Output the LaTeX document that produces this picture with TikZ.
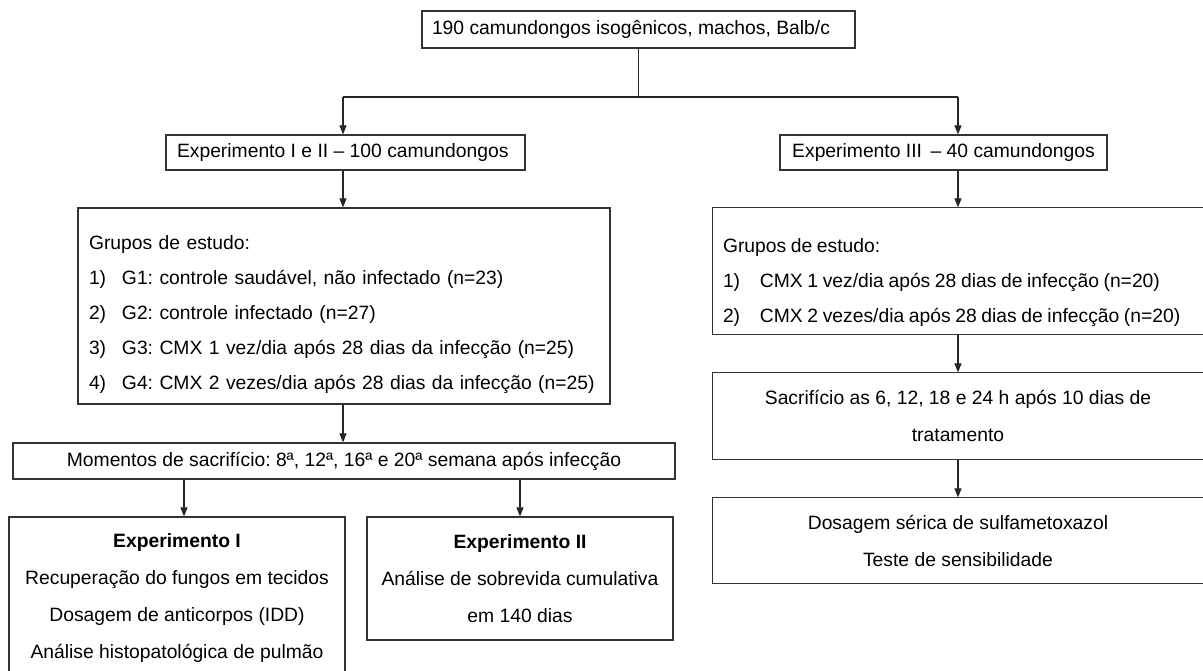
\documentclass[tikz,border=0pt]{standalone}
\usepackage{fontspec}
\setmainfont{Liberation Sans}
\usetikzlibrary{arrows.meta}
\begin{document}
\frenchspacing
\begin{tikzpicture}[x=1pt,y=-1pt,
  frame/.style={draw=black!80, line width=1.2pt},
  box/.style={frame, inner sep=0pt, text=black,
    font=\fontsize{19.3}{37}\selectfont\frenchspacing},
  openbox/.style={box, draw=none},
  listbox/.style={box, align=left, font=\fontsize{19.3}{35}\selectfont\frenchspacing},
  arr/.style={draw=black!85, line width=1.1pt, -{Triangle[length=9pt,width=7pt]}},
  ln/.style={draw=black!85, line width=1.1pt},
]
\useasboundingbox (0,0) rectangle (1203,671);
\clip (0,0) rectangle (1203,671);

% boxes
\node[box, minimum width=433pt, minimum height=37pt]
  (top) at (638.5,29.5) {\makebox[413pt][l]{190 camundongos isogênicos, machos, Balb/c}};
\node[box, minimum width=359pt, minimum height=35pt]
  (exp12) at (345.5,152.5) {\makebox[337pt][l]{Experimento I e II -- 100 camundongos}};
\node[box, minimum width=327pt, minimum height=35pt]
  (exp3) at (943.5,152.5) {Experimento III\, -- 40 camundongos};

\node[listbox, minimum width=532pt, minimum height=196pt, text width=510pt]
  (g1) at (344,306) {\rule{0pt}{32pt}Grupos de estudo:\\
  \mbox{\makebox[33pt][l]{1)}G1: controle saudável, não infectado (n=23)}\\
  \mbox{\makebox[33pt][l]{2)}G2: controle infectado (n=27)}\\
  \mbox{\makebox[33pt][l]{3)}G3: CMX 1 vez/dia após 28 dias da infecção (n=25)}\\
  \mbox{\makebox[33pt][l]{4)}G4: CMX 2 vezes/dia após 28 dias da infecção (n=25)}};

% right column: boxes run past the right edge of the picture
\node[listbox, draw=none, minimum width=490pt, minimum height=126pt, text width=470pt]
  (g2) at (958,271) {\spaceskip=4.6pt\rule{0pt}{38pt}Grupos de estudo:\\
  \mbox{\makebox[37pt][l]{1)}CMX 1 vez/dia após 28 dias de infecção (n=20)}\\
  \mbox{\makebox[37pt][l]{2)}CMX 2 vezes/dia após 28 dias de infecção (n=20)}};
\draw[frame] (g2.north west) rectangle ([xshift=20pt]g2.south east);

\node[box, minimum width=662pt, minimum height=36pt]
  (mom) at (344,461) {Momentos de sacrifício: 8ª, 12ª, 16ª e 20ª semana após infecção};

\node[box, minimum width=336pt, minimum height=162pt, align=center]
  (e1) at (177,598) {\textbf{Experimento I}\\Recuperação do fungos em tecidos\\Dosagem de anticorpos (IDD)\\Análise histopatológica de pulmão};
\node[box, minimum width=306pt, minimum height=123pt, align=center]
  (e2) at (520,578.5) {\textbf{Experimento II}\\Análise de sobrevida cumulativa\\em 140 dias};

\node[openbox, minimum width=490pt, minimum height=86pt, align=center]
  (sac) at (958,416) {Sacrifício as 6, 12, 18 e 24 h após 10 dias de\\tratamento};
\draw[frame] (sac.north west) rectangle ([xshift=20pt]sac.south east);
\node[openbox, minimum width=490pt, minimum height=85pt, align=center]
  (dos) at (958,540.5) {Dosagem sérica de sulfametoxazol\\Teste de sensibilidade};
\draw[frame] (dos.north west) rectangle ([xshift=20pt]dos.south east);

% connectors
\coordinate (hl) at (343,97);
\coordinate (hr) at (958,97);
\coordinate (c1) at (184,0);
\draw[ln] (top.south) -- (top.south |- hl);
\draw[ln] (hl) -- (hr);
\draw[arr] (hl) -- (hl |- exp12.north);
\draw[arr] (hr) -- (hr |- exp3.north);
\draw[arr] (exp12.south -| hl) -- (g1.north -| hl);
\draw[arr] (g1.south -| hl) -- (mom.north -| hl);
\draw[arr] (mom.south -| c1) -- (e1.north -| c1);
\draw[arr] (mom.south -| e2.north) -- (e2.north);
\draw[arr] (exp3.south -| hr) -- (g2.north -| hr);
\draw[arr] (g2.south -| hr) -- (sac.north -| hr);
\draw[arr] (sac.south -| hr) -- (dos.north -| hr);
\end{tikzpicture}
\end{document}
